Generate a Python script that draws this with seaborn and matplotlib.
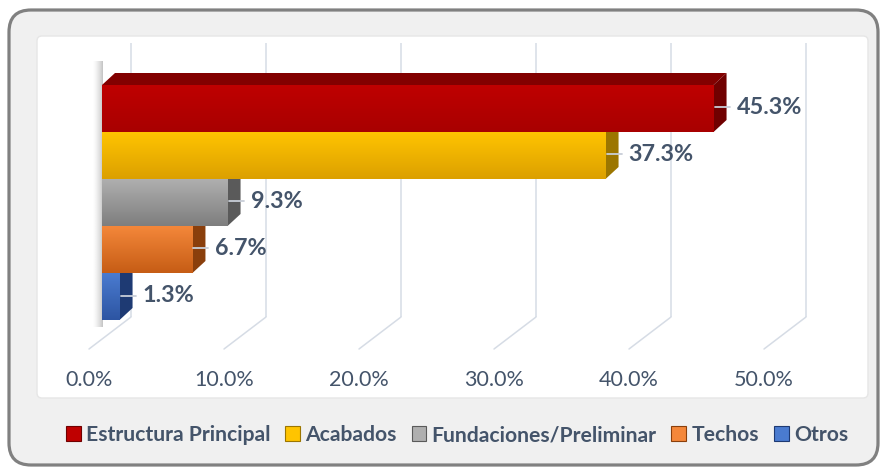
import numpy as np
import matplotlib
matplotlib.use("Agg")
import matplotlib.pyplot as plt
import seaborn as sns
from matplotlib.patches import FancyBboxPatch, Polygon, Patch
from matplotlib.transforms import IdentityTransform, ScaledTranslation
from matplotlib.colors import LinearSegmentedColormap

# datos
categorias = ["Estructura Principal", "Acabados", "Fundaciones/Preliminar", "Techos", "Otros"]
porcentajes = [45.3, 37.3, 9.3, 6.7, 1.3]
etiquetas = ["45.3%", "37.3%", "9.3%", "6.7%", "1.3%"]
ticks = [0, 10, 20, 30, 40, 50]
tick_labels = ["0.0%", "10.0%", "20.0%", "30.0%", "40.0%", "50.0%"]

# colores (cara frontal arriba/abajo, lado, techo)
col_arriba = ["#BF0000", "#FFC400", "#AFAFAF", "#F4873A", "#4A7BD0"]
col_abajo = ["#A80000", "#DCA000", "#7E7E7E", "#C65D15", "#2D55A2"]
col_lado = ["#700000", "#9C7600", "#5A5A5A", "#8A3F0C", "#1E3A73"]
col_techo = ["#820000", "#C09000", "#8C8C8C", "#B65A1C", "#35609F"]
texto = "#44546A"
rejilla = "#D6DCE5"

sns.set_theme(style="white")
plt.rcParams["font.family"] = ["Lato", "DejaVu Sans"]

W, H = 882, 469
fig = plt.figure(figsize=(W / 100, H / 100), dpi=100)
fig.patch.set_facecolor("white")
px = IdentityTransform()

# marco gris redondeado y area blanca
fig.add_artist(FancyBboxPatch((9, 4), 869, 455, boxstyle="round,pad=0,rounding_size=22",
                              transform=px, fc="#F0F0F0", ec="#808080", lw=2.3, zorder=-3))
fig.add_artist(FancyBboxPatch((37, 71), 831, 362, boxstyle="round,pad=0,rounding_size=5",
                              transform=px, fc="white", ec="#E6E6E6", lw=1.0, zorder=-2))

ax = fig.add_axes([37 / W, (H - 362) / H, 831 / W, (362 - 36) / H])
ax.set_facecolor("none")

sns.barplot(x=porcentajes, y=categorias, hue=categorias, palette=col_arriba, orient="h",
            width=1.0, saturation=1, legend=False, linewidth=0, ax=ax, zorder=3)

# escala: 13.5 px por punto porcentual, 47 px por barra
esc, alto = 13.5, 47
ax.set_xlim(-65 / esc, (831 - 65) / esc)
ax.set_ylim((326 - 72.5) / alto, -72.5 / alto)
ax.autoscale(False)
for s in ax.spines.values():
    s.set_visible(False)
ax.set_yticks([])
ax.set_ylabel("")

def a_px(x, y):
    return ax.transData.transform((x, y))

dx, dy = 13, 12  # profundidad de las barras

# rejilla en perspectiva (pared del fondo y piso)
for v in ticks:
    base = a_px(v, 4.5)
    arriba = a_px(v, -0.5)
    ax.plot([base[0] + 29, base[0] + 29], [base[1] + 3, arriba[1] + 42], color=rejilla,
            lw=1.1, transform=px, zorder=1, solid_capstyle="butt")
    ax.plot([base[0] + 29, base[0] - 13], [base[1] + 3, base[1] - 29], color=rejilla,
            lw=1.1, transform=px, zorder=1)

# sombra sobre la pared izquierda
izq = a_px(0, -0.5)
abajo = a_px(0, 4.5)
sombra = np.zeros((1, 40, 4))
sombra[..., :3] = 0.4
sombra[0, :, 3] = np.linspace(0, 0.55, 40) ** 1.6
p0 = ax.transData.inverted().transform((izq[0] - 10, abajo[1] - 7))
p1 = ax.transData.inverted().transform((izq[0] + 1, izq[1] + 24))
ax.imshow(sombra, extent=(p0[0], p1[0], p0[1], p1[1]), aspect="auto", zorder=1.5,
          interpolation="bilinear")

# caras 3D y degradados
for p in ax.patches[:len(porcentajes)]:
    b = p.get_bbox()
    i = int(round((b.y0 + b.y1) / 2))
    l, bot = a_px(b.x0, max(b.y0, b.y1))
    r, top = a_px(b.x1, min(b.y0, b.y1))
    ax.add_patch(Polygon([(l, top), (r, top), (r + dx, top + dy), (l + dx, top + dy)],
                         closed=True, fc=col_techo[i], ec="none", transform=px, zorder=2))
    ax.add_patch(Polygon([(r, bot), (r + dx, bot + dy), (r + dx, top + dy), (r, top)],
                         closed=True, fc=col_lado[i], ec="none", transform=px, zorder=2))
    cmap = LinearSegmentedColormap.from_list("g", [col_arriba[i], col_abajo[i]])
    im = ax.imshow(np.linspace(0, 1, 64).reshape(-1, 1), cmap=cmap,
                   extent=(b.x0, b.x1, max(b.y0, b.y1), min(b.y0, b.y1)),
                   aspect="auto", zorder=3.1, origin="upper")
    im.set_clip_path(p)

    # linea guia y etiqueta
    ax.plot([r + 1, r + 16], [(top + bot) / 2 + 1, (top + bot) / 2 + 1], color="#C8CED8",
            lw=1.3, transform=px, zorder=4)
    ax.annotate(etiquetas[i], xy=(porcentajes[i], i), xytext=(23, 1),
                textcoords="offset pixels", ha="left", va="center", fontsize=16.8,
                fontweight="bold", color=texto, zorder=5)

ax.set_xlim(-65 / esc, (831 - 65) / esc)
ax.set_ylim((326 - 72.5) / alto, -72.5 / alto)

# eje x: etiquetas en el borde frontal del piso
ax.set_xticks(ticks, tick_labels)
ax.tick_params(axis="x", length=0, pad=6, labelsize=15.5, labelcolor=texto)
for lbl in ax.get_xticklabels():
    lbl.set_transform(lbl.get_transform() + ScaledTranslation(-13 / 100, 0, fig.dpi_scale_trans))

# leyenda
manijas = [Patch(facecolor=col_arriba[i], edgecolor=col_lado[i], lw=0.8) for i in range(len(categorias))]
fig.legend(manijas, categorias, loc="center", bbox_to_anchor=(457 / W, 1 - 435 / H), ncol=5,
           frameon=False, handlelength=0.7, handleheight=0.7, handletextpad=0.25,
           columnspacing=0.7, prop={"weight": "bold", "size": 15.2}, labelcolor=texto)

fig.savefig("out.png", dpi=100, facecolor="white")
